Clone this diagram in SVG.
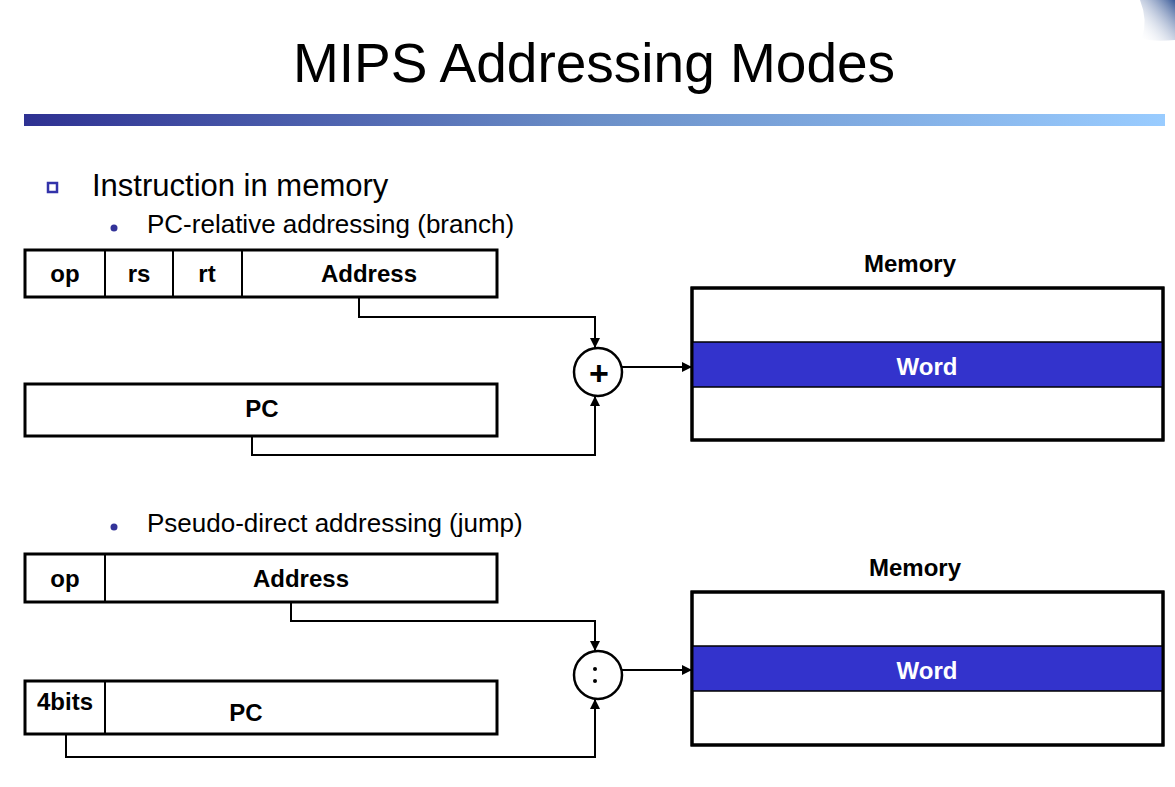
<svg xmlns="http://www.w3.org/2000/svg" width="1175" height="787" viewBox="0 0 1175 787">
<defs>
<linearGradient id="bar" x1="0" y1="0" x2="1" y2="0">
<stop offset="0" stop-color="#2e3192"/>
<stop offset="0.5" stop-color="#6b8fc8"/>
<stop offset="1" stop-color="#99ccff"/>
</linearGradient>
<linearGradient id="corner" x1="1" y1="0" x2="0" y2="1">
<stop offset="0" stop-color="#3a5a98"/>
<stop offset="1" stop-color="#ffffff" stop-opacity="0"/>
</linearGradient>
<marker id="arr" viewBox="0 0 10 10" refX="10" refY="5" markerWidth="10" markerHeight="10" markerUnits="userSpaceOnUse" orient="auto">
<path d="M0,0 L10,5 L0,10 z" fill="#000"/>
</marker>
<style>
.box{fill:#fff;stroke:#000;stroke-width:3}
.div{stroke:#000;stroke-width:2}
.lbl{font-family:"Liberation Sans",Arial,sans-serif;font-weight:bold;font-size:24px;fill:#000;text-anchor:middle}
.word{fill:#3333cc;stroke:#000;stroke-width:1.5}
.wtxt{font-family:"Liberation Sans",Arial,sans-serif;font-weight:bold;font-size:24px;fill:#fff;text-anchor:middle}
.conn{fill:none;stroke:#000;stroke-width:2;marker-end:url(#arr)}
.circ{fill:#fff;stroke:#000;stroke-width:2.5}
.txt{font-family:"Liberation Sans",Arial,sans-serif;fill:#000}
</style>
</defs>
<rect width="1175" height="787" fill="#fff"/>
<path d="M1140,0 L1175,0 L1175,40 Q1150,42 1142,38 Q1148,20 1140,0 z" fill="url(#corner)"/>
<text x="594" y="82" class="txt" font-size="55" text-anchor="middle">MIPS Addressing Modes</text>
<rect x="24" y="114" width="1141" height="12" fill="url(#bar)"/>
<rect x="48" y="183" width="9" height="9" fill="#fff" stroke="#3333aa" stroke-width="2.5"/>
<text x="92" y="196" class="txt" font-size="31">Instruction in memory</text>
<circle cx="114" cy="228" r="3.5" fill="#333399"/>
<text x="147" y="233" class="txt" font-size="26">PC-relative addressing (branch)</text>
<circle cx="114" cy="527" r="3.5" fill="#333399"/>
<text x="147" y="532" class="txt" font-size="26">Pseudo-direct addressing (jump)</text>

<g id="instr1">
<rect x="25" y="250" width="472" height="47" class="box"/>
<line x1="105" y1="250" x2="105" y2="297" class="div"/>
<line x1="173" y1="250" x2="173" y2="297" class="div"/>
<line x1="242" y1="250" x2="242" y2="297" class="div"/>
<text x="65" y="282" class="lbl">op</text>
<text x="139" y="282" class="lbl">rs</text>
<text x="207" y="282" class="lbl">rt</text>
<text x="369" y="282" class="lbl">Address</text>
</g>
<g id="pc1">
<rect x="25" y="384" width="472" height="52" class="box"/>
<text x="262" y="417" class="lbl">PC</text>
</g>
<g id="plus">
<circle cx="598" cy="372" r="24" class="circ"/>
<text x="599" y="385" class="txt" font-size="34" font-weight="bold" text-anchor="middle">+</text>
</g>
<g id="mem1">
<text x="910" y="272" class="lbl" font-size="25">Memory</text>
<rect x="692" y="288" width="471" height="152" class="box"/>
<rect x="692" y="342" width="471" height="45" class="word"/>
<text x="927" y="375" class="wtxt">Word</text>
<rect x="692" y="288" width="471" height="152" fill="none" stroke="#000" stroke-width="3"/>
</g>

<g id="instr2">
<rect x="25" y="554" width="472" height="48" class="box"/>
<line x1="105" y1="554" x2="105" y2="602" class="div"/>
<text x="65" y="587" class="lbl">op</text>
<text x="301" y="587" class="lbl">Address</text>
</g>
<g id="pc2">
<rect x="25" y="681" width="472" height="53" class="box"/>
<line x1="105" y1="681" x2="105" y2="734" class="div"/>
<text x="65" y="710" class="lbl" font-size="19">4bits</text>
<text x="246" y="721" class="lbl">PC</text>
</g>
<g id="colon">
<circle cx="598" cy="675" r="24" class="circ"/>
<circle cx="595" cy="669" r="2" fill="#000"/>
<circle cx="595" cy="681" r="2" fill="#000"/>
</g>
<g id="mem2">
<text x="915" y="576" class="lbl" font-size="25">Memory</text>
<rect x="692" y="592" width="471" height="153" class="box"/>
<rect x="692" y="646" width="471" height="45" class="word"/>
<text x="927" y="679" class="wtxt">Word</text>
<rect x="692" y="592" width="471" height="153" fill="none" stroke="#000" stroke-width="3"/>
</g>

<g id="connectors">
<path d="M359,297 V317 H595 V348" class="conn"/>
<path d="M252,436 V455 H595 V396" class="conn"/>
<path d="M622,367 H692" class="conn"/>
<path d="M291,602 V621 H595 V651" class="conn"/>
<path d="M66,734 V757 H595 V699" class="conn"/>
<path d="M622,670 H692" class="conn"/>
</g>
</svg>
